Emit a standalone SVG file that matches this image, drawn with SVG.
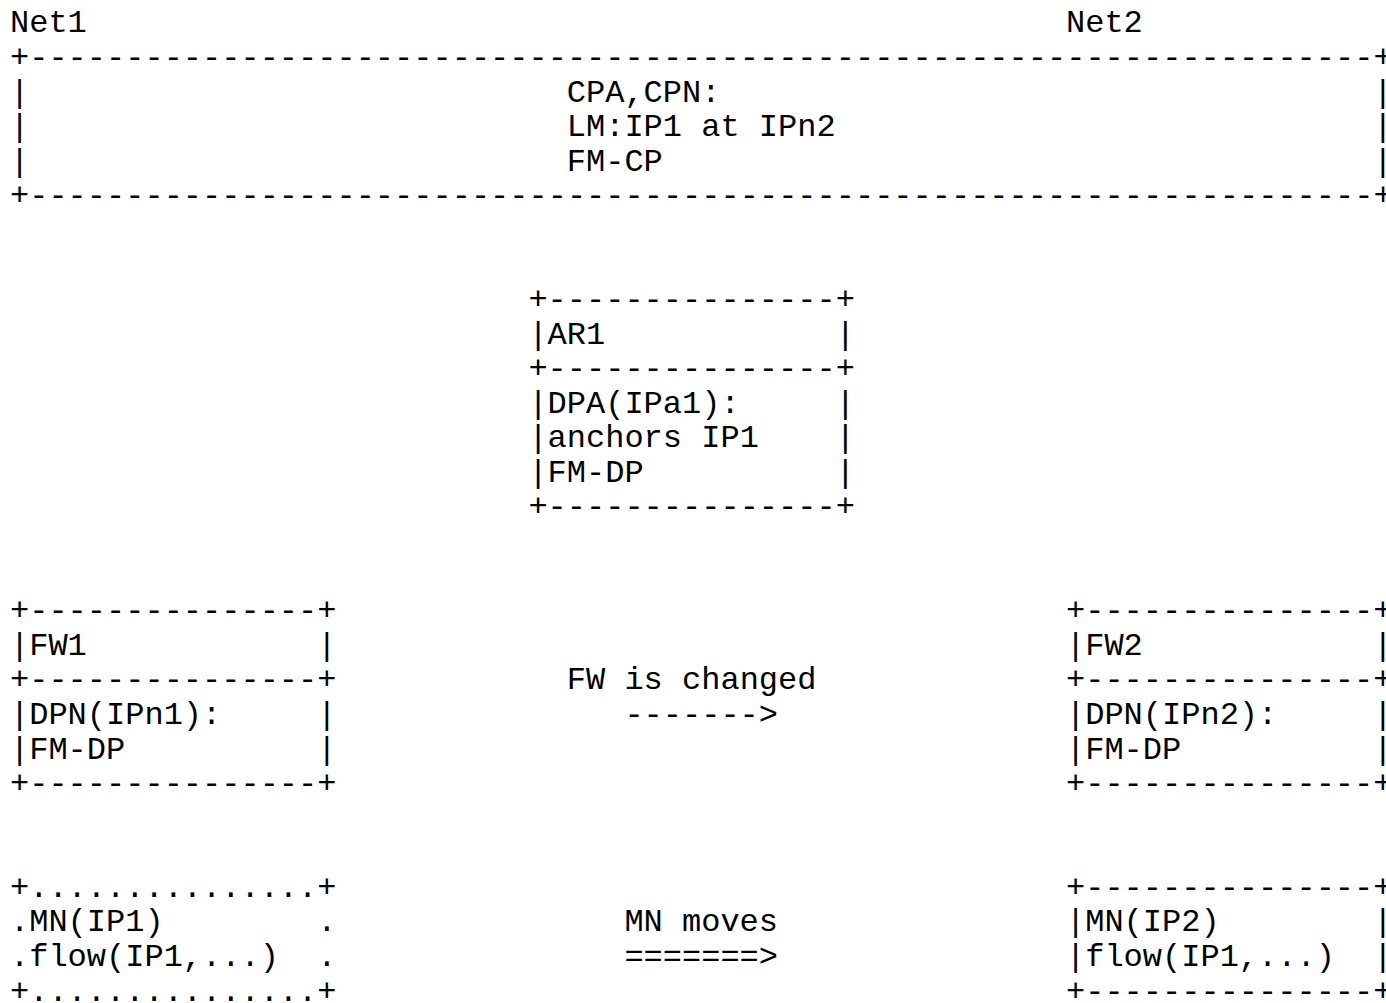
<svg xmlns="http://www.w3.org/2000/svg" width="1386" height="1003" viewBox="0 0 1386 1003" xml:space="preserve">
<style>
text { font-family: "Courier New", "Liberation Mono", monospace; font-size: 32px; fill: #000; white-space: pre; }
</style>
<rect width="1386" height="1003" fill="#fff"/>
<g id="net-labels">
<text x="10" y="32.3">Net1</text>
<text x="1066" y="32.3">Net2</text>
</g>
<g id="control-plane">
<text x="10" y="66.9">+----------------------------------------------------------------------+</text>
<text x="10" y="101.5">|</text><text x="566.8" y="101.5">CPA,CPN:</text><text x="1373.2" y="101.5">|</text>
<text x="10" y="136.0">|</text><text x="566.8" y="136.0">LM:IP1 at IPn2</text><text x="1373.2" y="136.0">|</text>
<text x="10" y="170.6">|</text><text x="566.8" y="170.6">FM-CP</text><text x="1373.2" y="170.6">|</text>
<text x="10" y="205.2">+----------------------------------------------------------------------+</text>
</g>
<g id="AR1">
<text x="528.4" y="308.9">+---------------+</text>
<text x="528.4" y="343.5">|AR1            |</text>
<text x="528.4" y="378.1">+---------------+</text>
<text x="528.4" y="412.7">|DPA(IPa1):     |</text>
<text x="528.4" y="447.3">|anchors IP1    |</text>
<text x="528.4" y="481.8">|FM-DP          |</text>
<text x="528.4" y="516.4">+---------------+</text>
</g>
<g id="FW1">
<text x="10" y="620.2">+---------------+</text>
<text x="10" y="654.7">|FW1            |</text>
<text x="10" y="689.3">+---------------+</text>
<text x="10" y="723.9">|DPN(IPn1):     |</text>
<text x="10" y="758.5">|FM-DP          |</text>
<text x="10" y="793.1">+---------------+</text>
</g>
<g id="FW2">
<text x="1066" y="620.2">+---------------+</text>
<text x="1066" y="654.7">|FW2            |</text>
<text x="1066" y="689.3">+---------------+</text>
<text x="1066" y="723.9">|DPN(IPn2):     |</text>
<text x="1066" y="758.5">|FM-DP          |</text>
<text x="1066" y="793.1">+---------------+</text>
</g>
<g id="MN-old">
<text x="10" y="896.8">+...............+</text>
<text x="10" y="931.4">.MN(IP1)        .</text>
<text x="10" y="966.0">.flow(IP1,...)  .</text>
<text x="10" y="1000.5">+...............+</text>
</g>
<g id="MN-new">
<text x="1066" y="896.8">+---------------+</text>
<text x="1066" y="931.4">|MN(IP2)        |</text>
<text x="1066" y="966.0">|flow(IP1,...)  |</text>
<text x="1066" y="1000.5">+---------------+</text>
</g>
<g id="connectors">
<text x="566.8" y="689.3">FW is changed</text>
<text x="624.4" y="723.9">-------&gt;</text>
<text x="624.4" y="931.4">MN moves</text>
<text x="624.4" y="966.0">=======&gt;</text>
</g>
</svg>
